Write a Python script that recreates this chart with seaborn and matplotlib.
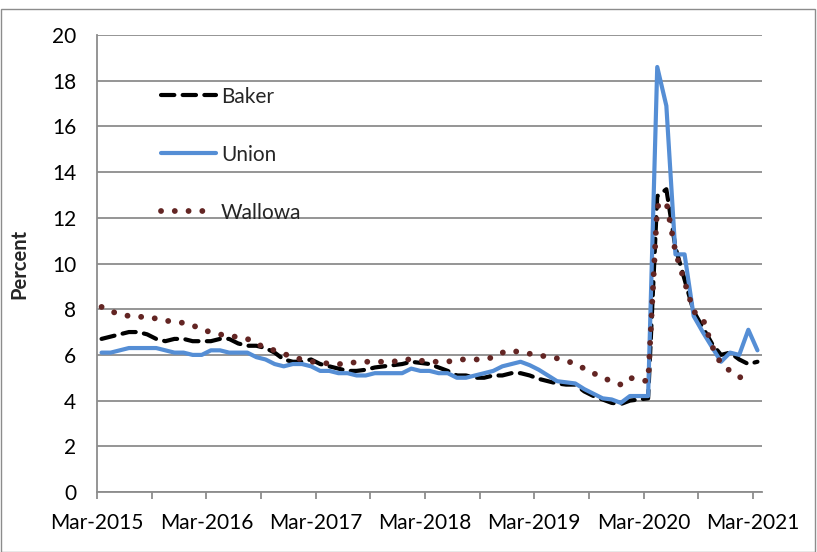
import numpy as np
import pandas as pd
import matplotlib.pyplot as plt
import seaborn as sns
from matplotlib.patches import Rectangle

# --- Data: monthly unemployment rate (%), Mar-2015 .. Mar-2021 ---

months = pd.date_range("2015-03-01", "2021-03-01", freq="MS")

baker = [6.7, 6.8, 6.9, 7.0, 7.0, 6.9, 6.7, 6.6, 6.7, 6.7, 6.6, 6.6,
         6.6, 6.7, 6.7, 6.5, 6.4, 6.4, 6.3, 6.1, 5.8, 5.7, 5.7, 5.8,
         5.6, 5.5, 5.4, 5.3, 5.3, 5.35, 5.45, 5.5, 5.55, 5.6, 5.7, 5.65,
         5.6, 5.45, 5.3, 5.1, 5.1, 5.0, 5.0, 5.1, 5.1, 5.2, 5.2, 5.1,
         4.95, 4.85, 4.75, 4.7, 4.7, 4.4, 4.2, 4.05, 3.9, 3.85, 4.0, 4.05,
         4.1, 12.95, 13.25, 10.7, 9.3, 7.9, 7.2, 6.5, 6.0, 6.1, 5.8, 5.6,
         5.7]

union = [6.1, 6.1, 6.2, 6.3, 6.3, 6.3, 6.3, 6.2, 6.1, 6.1, 6.0, 6.0,
         6.2, 6.2, 6.1, 6.1, 6.1, 5.9, 5.8, 5.6, 5.5, 5.6, 5.6, 5.5,
         5.3, 5.3, 5.2, 5.2, 5.1, 5.1, 5.2, 5.2, 5.2, 5.2, 5.4, 5.3,
         5.3, 5.2, 5.2, 5.0, 5.0, 5.1, 5.2, 5.3, 5.5, 5.6, 5.7, 5.55,
         5.35, 5.1, 4.85, 4.8, 4.75, 4.5, 4.3, 4.1, 4.05, 3.9, 4.2, 4.2,
         4.2, 18.6, 16.9, 10.4, 10.4, 7.7, 7.0, 6.35, 5.7, 6.1, 6.0, 7.1,
         6.2]

wallowa = [8.1, 7.9, 7.8, 7.7, 7.7, 7.6, 7.6, 7.5, 7.45, 7.4, 7.3, 7.1,
           7.0, 6.9, 6.8, 6.8, 6.7, 6.5, 6.3, 6.2, 6.05, 5.9, 5.8, 5.7,
           5.7, 5.6, 5.6, 5.6, 5.7, 5.7, 5.7, 5.7, 5.7, 5.8, 5.8, 5.75,
           5.7, 5.7, 5.7, 5.8, 5.8, 5.8, 5.8, 5.9, 6.1, 6.2, 6.1, 6.05,
           6.0, 5.9, 5.85, 5.75, 5.6, 5.4, 5.2, 5.0, 4.85, 4.7, 5.0, 4.9,
           4.85, 12.5, 12.7, 10.5, 9.2, 7.9, 7.6, 6.4, 5.6, 5.3, 5.05, 4.8,
           np.nan]

tick_labels = ["Mar-2015", "Mar-2016", "Mar-2017", "Mar-2018",
               "Mar-2019", "Mar-2020", "Mar-2021"]

BAKER_COLOR = "#000000"
UNION_COLOR = "#558ED5"
WALLOWA_COLOR = "#632523"
GRID_COLOR = "#8C8C8C"

sns.set_style("white")
plt.rcParams['font.family'] = ['Lato', 'DejaVu Sans']

# points sit in the middle of each month slot (Excel date axis)
pos = np.arange(len(months)) + 0.5

fig, ax = plt.subplots(figsize=(8.17, 5.52), dpi=100)
fig.subplots_adjust(left=97 / 817, right=762 / 817, bottom=1 - 492 / 552, top=1 - 35 / 552)

sns.lineplot(x=pos, y=baker, ax=ax, color=BAKER_COLOR, linewidth=3.0,
             linestyle=(0, (3.2, 2.0)), dash_capstyle='round', label="Baker")
sns.lineplot(x=pos, y=union, ax=ax, color=UNION_COLOR, linewidth=3.0,
             solid_capstyle='round', label="Union")
sns.lineplot(x=pos, y=wallowa, ax=ax, color=WALLOWA_COLOR, linewidth=4.2,
             linestyle=(0, (0.01, 2.35)), dash_capstyle='round', label="Wallowa")

ax.set_xlim(0, len(months))
ax.set_ylim(0, 20)
ax.set_yticks(range(0, 21, 2))
ax.set_xticks(np.arange(0, len(months), 12))
ax.set_xticklabels(tick_labels)
ax.set_xticks(np.arange(6, len(months), 12), minor=True)

ax.yaxis.grid(True, color=GRID_COLOR, linewidth=1.3)
ax.xaxis.grid(False)
ax.set_axisbelow(True)

for side in ["top", "right"]:
    ax.spines[side].set_visible(False)
for side in ["left", "bottom"]:
    ax.spines[side].set_color(GRID_COLOR)
    ax.spines[side].set_linewidth(1.3)

ax.tick_params(axis='both', which='both', direction='out', color=GRID_COLOR,
               width=1.3, labelsize=15, labelcolor='black')
ax.tick_params(axis='y', length=5, pad=10)
ax.tick_params(axis='x', which='both', length=5, pad=10, bottom=True)

ax.set_xlabel("")
ax.set_ylabel("Percent", fontsize=14.5, fontweight='bold', labelpad=16)

leg = ax.legend(loc='upper left', bbox_to_anchor=(0.083, 0.905), frameon=False,
                fontsize=15, handlelength=2.65, handletextpad=0.25,
                labelspacing=1.82, borderaxespad=0)

# chart-area border
fig.patches.append(Rectangle((1 / 817, 0), 814 / 817, 1 - 9 / 552, transform=fig.transFigure,
                             fill=False, edgecolor="#8C8C8C", linewidth=1.0))

plt.savefig("out.png", dpi=100)
plt.close()
